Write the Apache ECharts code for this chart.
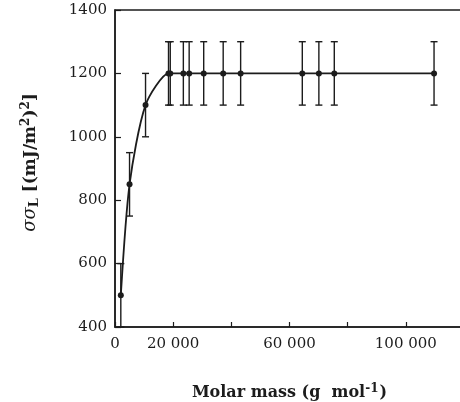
<!DOCTYPE html>
<html>
<head>
<meta charset="utf-8">
<script src="https://cdn.jsdelivr.net/npm/echarts@6/dist/echarts.min.js"></script>
<style>
  html, body { margin: 0; padding: 0; background: #fff; }
  #chart { width: 460px; height: 402px; }
</style>
</head>
<body>
<div id="chart"></div>
<script>
// molar mass (g/mol) vs sigma*sigma_L
const molarMass = [2000, 5000, 10500, 18400, 19000, 23500, 25500, 30500, 37200, 43200, 64400, 70100, 75400, 109700];
const sigma = [500, 850, 1100, 1200, 1200, 1200, 1200, 1200, 1200, 1200, 1200, 1200, 1200, 1200];
const sigmaErr = [100, 100, 100, 100, 100, 100, 100, 100, 100, 100, 100, 100, 100, 100];
const xLabelled = [0, 20000, 60000, 100000];
const yTicks = [400, 600, 800, 1000, 1200, 1400];

const ink = '#1c1c1c';
const serif = '"DejaVu Serif", "Liberation Serif", serif';

const points = molarMass.map((m, i) => [m, sigma[i]]);
const bars = molarMass.map((m, i) => [m, sigma[i] - sigmaErr[i], sigma[i] + sigmaErr[i]]);

function fmtThousands(v) {
  return String(v).replace(/\B(?=(\d{3})+(?!\d))/g, ' ');
}

const chart = echarts.init(document.getElementById('chart'));
chart.setOption({
  backgroundColor: '#fff',
  animation: false,
  grid: {
    left: 115, top: 10, right: -4, bottom: 75,
    outerBoundsMode: 'none',
    show: true, borderColor: ink, borderWidth: 1.5
  },
  xAxis: {
    type: 'value',
    min: 0, max: 120000, interval: 20000,
    splitLine: { show: false },
    axisLine: { lineStyle: { color: ink, width: 1.5 } },
    axisTick: { inside: true, length: 5, lineStyle: { color: ink, width: 1.2 } },
    axisLabel: {
      color: ink, fontFamily: serif, fontSize: 15, margin: 10,
      formatter: v => xLabelled.includes(v) ? fmtThousands(v) : ''
    },
    name: '{b|Molar mass (g  mol}{sup|-1}{b|)}',
    nameLocation: 'middle',
    nameGap: 56,
    nameTextStyle: {
      rich: {
        b: { fontFamily: serif, fontWeight: 'bold', fontSize: 16, color: ink },
        sup: { fontFamily: serif, fontWeight: 'bold', fontSize: 12, color: ink, verticalAlign: 'top', padding: [0, 1, 8, 0] }
      }
    }
  },
  yAxis: {
    type: 'value',
    min: yTicks[0], max: yTicks[yTicks.length - 1], interval: 200,
    splitLine: { show: false },
    axisLine: { lineStyle: { color: ink, width: 1.5 } },
    axisTick: { inside: true, length: 6, lineStyle: { color: ink, width: 1.2 } },
    axisLabel: { color: ink, fontFamily: serif, fontSize: 15, margin: 8, formatter: v => String(v) },
    name: '{i|σσ}{sub|L}{b| [(mJ/m}{sup|2}{b|)}{sup|2}{b|]}',
    nameLocation: 'middle',
    nameGap: 74,
    nameRotate: 90,
    nameTextStyle: {
      padding: [0, 0, 0, 12],
      rich: {
        i: { fontFamily: serif, fontStyle: 'italic', fontSize: 18, color: ink },
        sub: { fontFamily: serif, fontWeight: 'bold', fontSize: 13, color: ink, verticalAlign: 'bottom', padding: [7, 0, 0, 0] },
        b: { fontFamily: serif, fontWeight: 'bold', fontSize: 17, color: ink },
        sup: { fontFamily: serif, fontWeight: 'bold', fontSize: 12, color: ink, verticalAlign: 'top', padding: [0, 0, 9, 0] }
      }
    }
  },
  series: [
    {
      type: 'custom',
      data: bars,
      z: 3,
      renderItem: function (params, api) {
        const x = api.value(0);
        const lo = api.coord([x, api.value(1)]);
        const hi = api.coord([x, api.value(2)]);
        const cap = 3.5;
        const style = { stroke: ink, lineWidth: 1.4 };
        return {
          type: 'group',
          children: [
            { type: 'line', shape: { x1: lo[0], y1: lo[1], x2: hi[0], y2: hi[1] }, style: style },
            { type: 'line', shape: { x1: lo[0] - cap, y1: lo[1], x2: lo[0] + cap, y2: lo[1] }, style: style },
            { type: 'line', shape: { x1: hi[0] - cap, y1: hi[1], x2: hi[0] + cap, y2: hi[1] }, style: style }
          ]
        };
      }
    },
    {
      type: 'line',
      data: points,
      smooth: 0.25,
      symbol: 'circle',
      symbolSize: 6,
      z: 4,
      itemStyle: { color: ink },
      lineStyle: { color: ink, width: 1.8 }
    }
  ]
});
</script>
</body>
</html>
